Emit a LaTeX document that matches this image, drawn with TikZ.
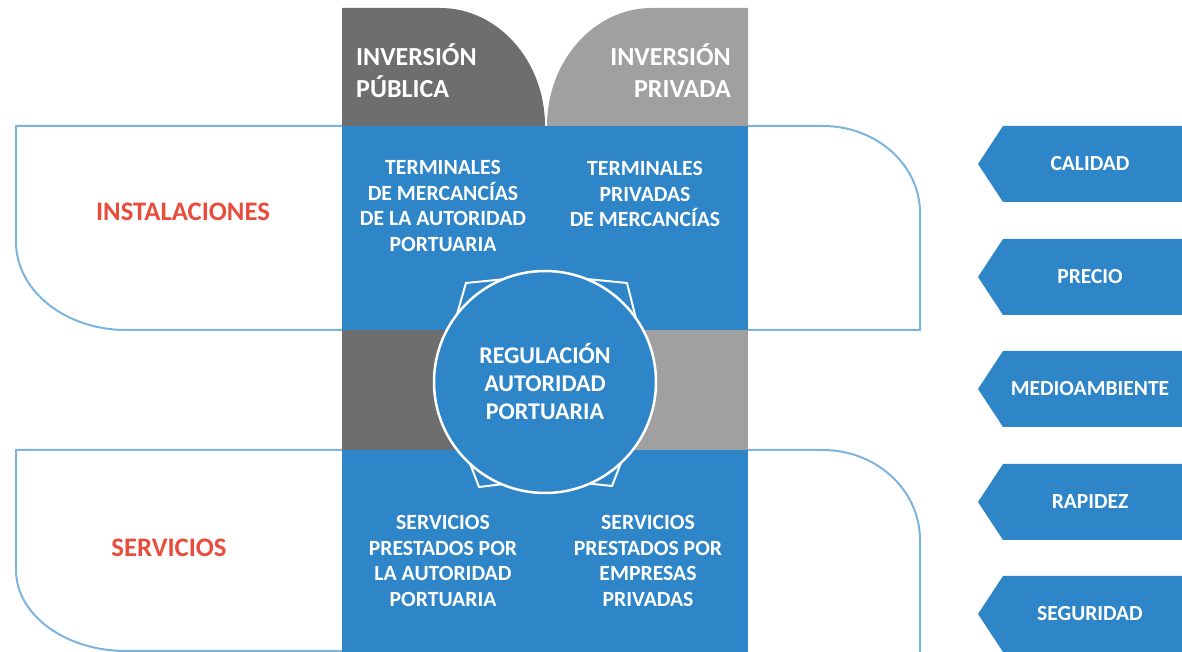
\documentclass[tikz,border=0pt]{standalone}
\usepackage{fontspec}
\setmainfont{Carlito}
\definecolor{portblue}{RGB}{46,134,200}
\definecolor{pubgray}{RGB}{110,110,110}
\definecolor{privgray}{RGB}{160,160,160}
\definecolor{framblue}{RGB}{125,180,222}
\definecolor{labred}{RGB}{231,76,60}
\tikzset{
  frame/.style={draw=framblue, line width=2pt},
  headtext/.style={text=white, inner sep=0pt, font=\fontsize{26}{32}\selectfont\bfseries},
  boxtext/.style={text=white, inner sep=0pt, align=center, font=\fontsize{21.7}{25.7}\selectfont\bfseries},
  sidetext/.style={text=labred, inner sep=0pt, font=\fontsize{26.7}{30}\selectfont\bfseries},
  tagtext/.style={text=white, inner sep=0pt, font=\fontsize{21.5}{25}\selectfont\bfseries}
}
\begin{document}
\begin{tikzpicture}[x=1pt,y=1pt]
\useasboundingbox (0,0) rectangle (1182,652);

\draw[frame] (342,526) -- (16,526) -- (16,410) arc[start angle=180,end angle=270,x radius=110,y radius=88] -- (342,322);
\draw[frame] (748,526) -- (823,526) arc[start angle=90,end angle=0,x radius=97,y radius=87] -- (920,322) -- (748,322);
\draw[frame] (342,202) -- (16,202) -- (16,82) arc[start angle=180,end angle=270,x radius=110,y radius=81] -- (342,1);
\draw[frame] (748,202) -- (823,202) arc[start angle=90,end angle=0,x radius=97,y radius=90] -- (920,-2);

\fill[pubgray] (342,526) -- (342,644) -- (440,644) arc[start angle=90,end angle=0,x radius=105,y radius=118] -- cycle;
\fill[privgray] (748,526) -- (748,644) -- (652,644) arc[start angle=90,end angle=180,x radius=105,y radius=118] -- cycle;
\fill[portblue] (342,0) rectangle (748,526);
\fill[pubgray] (342,202) rectangle (545,322);
\fill[privgray] (545,202) rectangle (748,322);

\draw[white, line width=2pt, fill=portblue] (466,369) -- (546,377) -- (627,369) -- (652,270) -- (612,166) -- (546,173) -- (479,165) -- (438,272) -- cycle;
\node[circle, draw=white, line width=2.5pt, fill=portblue, minimum size=222pt, boxtext, font=\fontsize{24}{28}\selectfont\bfseries] (reg) at (545,270) {REGULACIÓN\\AUTORIDAD\\PORTUARIA};

\node[headtext, anchor=west, align=left] (pub) at (356,581) {INVERSIÓN\\PÚBLICA};
\node[headtext, anchor=east, align=right] (priv) at (731,581) {INVERSIÓN\\PRIVADA};

\node[boxtext] (term1) at (443,446) {TERMINALES\\DE MERCANCÍAS\\DE LA AUTORIDAD\\PORTUARIA};
\node[boxtext] (term2) at (645,458) {TERMINALES\\PRIVADAS\\DE MERCANCÍAS};
\node[boxtext] (serv1) at (443,91) {SERVICIOS\\PRESTADOS POR\\LA AUTORIDAD\\PORTUARIA};
\node[boxtext] (serv2) at (648,91) {SERVICIOS\\PRESTADOS POR\\EMPRESAS\\PRIVADAS};

\node[sidetext] (inst) at (183,440) {INSTALACIONES};
\node[sidetext] (serv) at (169,104) {SERVICIOS};

\foreach \y/\t [count=\i] in {488/CALIDAD,375/PRECIO,263/MEDIOAMBIENTE,150/RAPIDEZ,38/SEGURIDAD}{
  \fill[portblue] (978,\y) -- (1003,\y+38) -- (1182,\y+38) -- (1182,\y-38) -- (1003,\y-38) -- cycle;
  \node[tagtext] (tag\i) at (1090,\y) {\t};
}
\end{tikzpicture}
\end{document}
